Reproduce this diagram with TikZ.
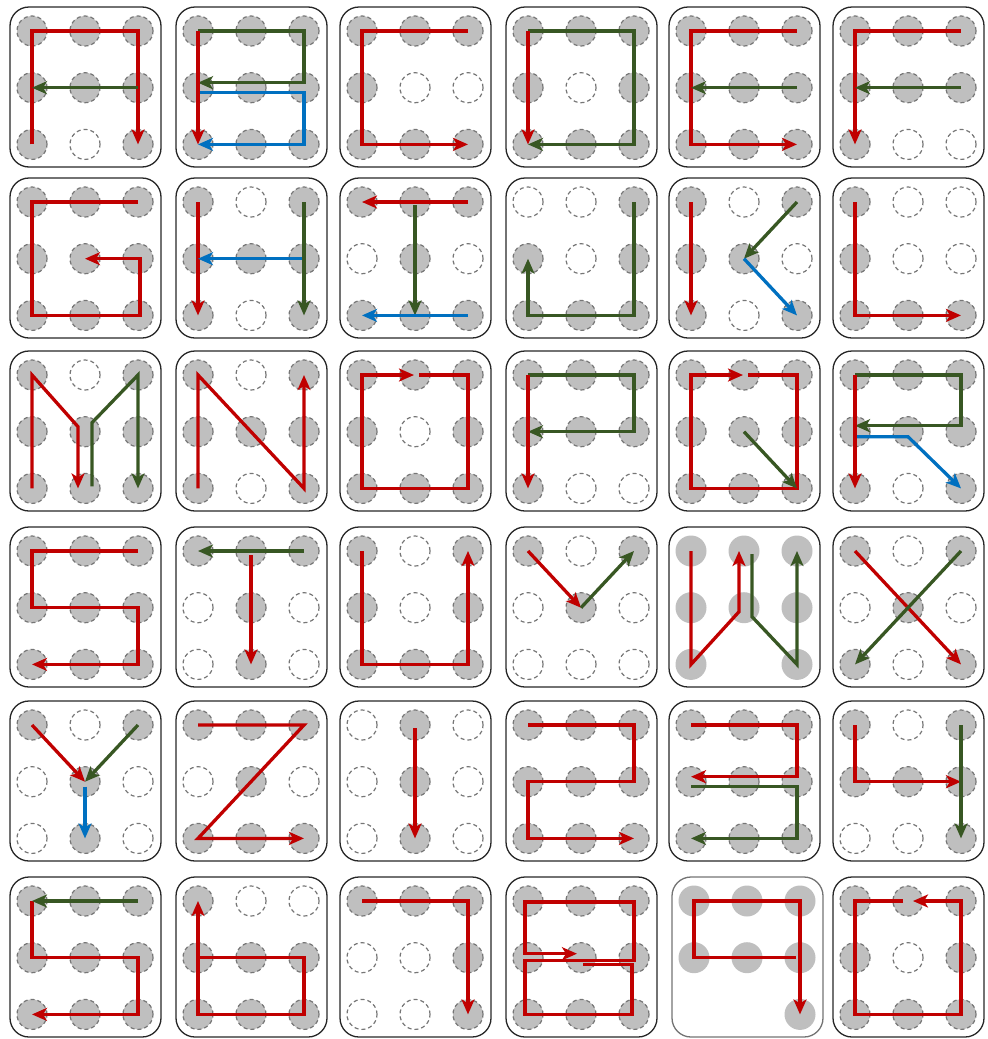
\documentclass[tikz,border=0pt]{standalone}
\usetikzlibrary{arrows.meta,calc}
\definecolor{pred}{HTML}{C00000}
\definecolor{pgreen}{HTML}{385723}
\definecolor{pblue}{HTML}{0070C0}
\definecolor{dotfill}{HTML}{BFBFBF}
\definecolor{dotline}{HTML}{767676}
\tikzset{
 panel/.style={draw=black!85, line width=1.3pt, rounded corners=19pt},
 dotF/.style={circle, minimum size=30pt, inner sep=0pt, fill=dotfill, draw=dotline, dash pattern=on 4pt off 3pt, line width=1.2pt},
 dotE/.style={dotF, fill=none},
 dotS/.style={circle, minimum size=31pt, inner sep=0pt, fill=dotfill},
 dotN/.style={circle, minimum size=30pt, inner sep=0pt},
 strokep/.style={line width=3.3pt, -{Stealth[length=15pt,width=13pt,inset=4pt]}},
 rp/.style={strokep, draw=pred},
 gp/.style={strokep, draw=pgreen},
 bp/.style={strokep, draw=pblue},
}
\newcommand\pnl[3]{%
  \draw[panel] (#1-22,#2-24) rectangle ++(151,160);
  \foreach \s [count=\i from 0] in {#3} {%
    \pgfmathtruncatemacro\cx{mod(\i,3)}%
    \pgfmathtruncatemacro\cy{div(\i,3)}%
    \edef\nm{\ifcase\i tl\or tm\or tr\or ml\or mm\or mr\or bl\or bm\or br\fi}%
    \edef\tmp{\noexpand\node[dot\s] (\nm) at (#1+\cx*53, #2+\cy*56.7) {};}\tmp
  }%
}
\begin{document}
\begin{tikzpicture}[x=1pt,y=-1pt]
\useasboundingbox (0,0) rectangle (988,1039);
% ---- row 1
\pnl{32}{31}{F,F,F,F,F,F,F,E,F}
\draw[rp] (bl.center) -- (tl.center) -- (tr.center) -- (br.center);
\draw[gp] (mr.center) -- (ml.center);
\pnl{198}{31}{F,F,F,F,F,F,F,F,F}
\draw[gp] (tl.center) -- (tr.center) -- ($(mr.center)+(0,-5)$) -- ($(ml.center)+(0,-5)$);
\draw[bp] ($(ml.center)+(0,5)$) -- ($(mr.center)+(0,5)$) -- (br.center) -- (bl.center);
\draw[rp] (tl.center) -- (bl.center);
\pnl{362}{31}{F,F,F,F,E,E,F,F,F}
\draw[rp] (tr.center) -- (tl.center) -- (bl.center) -- (br.center);
\pnl{528}{31}{F,F,F,F,E,F,F,F,F}
\draw[gp] (tl.center) -- (tr.center) -- (br.center) -- (bl.center);
\draw[rp] (tl.center) -- (bl.center);
\pnl{691}{31}{F,F,F,F,F,F,F,F,F}
\draw[rp] (tr.center) -- (tl.center) -- (bl.center) -- (br.center);
\draw[gp] (mr.center) -- (ml.center);
\pnl{855}{31}{F,F,F,F,F,F,F,E,E}
\draw[rp] (tr.center) -- (tl.center) -- (bl.center);
\draw[gp] (mr.center) -- (ml.center);
% ---- row 2
\pnl{32}{202}{F,F,F,F,F,F,F,F,F}
\draw[rp] (tr.center) -- (tl.center) -- (bl.center) -- ($(br.center)+(2,0)$) -- ($(mr.center)+(2,0)$) -- (mm.center);
\pnl{198}{202}{F,E,F,F,F,F,F,E,F}
\draw[rp] (tl.center) -- (bl.center);
\draw[bp] (mr.center) -- (ml.center);
\draw[gp] (tr.center) -- (br.center);
\pnl{362}{202}{F,F,F,E,F,E,F,F,F}
\draw[rp] (tr.center) -- (tl.center);
\draw[gp] ($(tm.center)+(0,3)$) -- (bm.center);
\draw[bp] (br.center) -- (bl.center);
\pnl{528}{202}{E,E,F,F,E,F,F,F,F}
\draw[gp] (tr.center) -- (br.center) -- (bl.center) -- (ml.center);
\pnl{691}{202}{F,E,F,F,F,E,F,E,F}
\draw[rp] (tl.center) -- (bl.center);
\draw[gp] (tr.center) -- (mm.center);
\draw[bp] (mm.center) -- (br.center);
\pnl{855}{202}{F,E,E,F,E,E,F,F,F}
\draw[rp] (tl.center) -- (bl.center) -- (br.center);
% ---- row 3
\pnl{32}{375}{F,E,F,F,F,F,F,F,F}
\draw[rp] (bl.center) -- (tl.center) -- ($(mm.center)+(-7,-5)$) -- ($(bm.center)+(-7,0)$);
\draw[gp] ($(bm.center)+(7,-2)$) -- ($(mm.center)+(7,-9)$) -- (tr.center) -- (br.center);
\pnl{198}{375}{F,E,F,F,F,F,F,E,F}
\draw[rp] (bl.center) -- (tl.center) -- (br.center) -- (tr.center);
\pnl{362}{375}{F,F,F,F,E,F,F,F,F}
\draw[rp] ($(tm.center)+(4,0)$) -- (tr.center) -- (br.center) -- (bl.center) -- (tl.center) -- ($(tm.center)+(-1,0)$);
\pnl{528}{375}{F,F,F,F,F,F,F,E,E}
\draw[gp] (tl.center) -- (tr.center) -- (mr.center) -- (ml.center);
\draw[rp] (tl.center) -- (bl.center);
\pnl{691}{375}{F,F,F,F,F,F,F,F,F}
\draw[rp] ($(tm.center)+(4,0)$) -- (tr.center) -- (br.center) -- (bl.center) -- (tl.center) -- ($(tm.center)+(-1,0)$);
\draw[gp] (mm.center) -- (br.center);
\pnl{855}{375}{F,F,F,F,F,F,F,E,F}
\draw[gp] (tl.center) -- (tr.center) -- ($(mr.center)+(0,-6)$) -- ($(ml.center)+(0,-6)$);
\draw[bp] ($(ml.center)+(0,5)$) -- ($(mm.center)+(0,5)$) -- (br.center);
\draw[rp] (tl.center) -- (bl.center);
% ---- row 4
\pnl{32}{551}{F,F,F,F,F,F,F,F,F}
\draw[rp] (tr.center) -- (tl.center) -- (ml.center) -- (mr.center) -- (br.center) -- (bl.center);
\pnl{198}{551}{F,F,F,E,F,E,E,F,E}
\draw[gp] (tr.center) -- (tl.center);
\draw[rp] ($(tm.center)+(0,4)$) -- (bm.center);
\pnl{362}{551}{F,E,F,F,E,F,F,F,F}
\draw[rp] (tl.center) -- (bl.center) -- (br.center) -- (tr.center);
\pnl{528}{551}{F,E,F,E,F,E,E,E,E}
\draw[rp] (tl.center) -- (mm.center);
\draw[gp] (mm.center) -- (tr.center);
\pnl{691}{551}{S,S,S,S,S,S,S,N,S}
\draw[rp] (tl.center) -- (bl.center) -- ($(mm.center)+(-5,4)$) -- ($(tm.center)+(-5,0)$);
\draw[gp] ($(tm.center)+(8,3)$) -- ($(mm.center)+(8,9)$) -- (br.center) -- (tr.center);
\pnl{855}{551}{F,E,F,E,F,E,F,E,F}
\draw[rp] (tl.center) -- (br.center);
\draw[gp] (tr.center) -- (bl.center);
% ---- row 5
\pnl{32}{725}{F,E,F,E,F,E,E,F,E}
\draw[bp] ($(mm.center)+(0,5)$) -- (bm.center);
\draw[rp] (tl.center) -- (mm.center);
\draw[gp] (tr.center) -- (mm.center);
\pnl{198}{725}{F,F,F,E,F,E,F,F,F}
\draw[rp] (tl.center) -- (tr.center) -- (bl.center) -- (br.center);
\pnl{362}{725}{E,F,E,E,F,E,E,F,E}
\draw[rp] ($(tm.center)+(0,3)$) -- (bm.center);
\pnl{528}{725}{F,F,F,F,F,F,F,F,F}
\draw[rp] (tl.center) -- (tr.center) -- (mr.center) -- (ml.center) -- (bl.center) -- (br.center);
\pnl{691}{725}{F,F,F,F,F,F,F,F,F}
\draw[rp] (tl.center) -- (tr.center) -- ($(mr.center)+(0,-5)$) -- ($(ml.center)+(0,-5)$);
\draw[gp] ($(ml.center)+(0,5)$) -- ($(mr.center)+(0,5)$) -- (br.center) -- (bl.center);
\pnl{855}{725}{F,E,F,F,F,F,E,E,F}
\draw[rp] (tl.center) -- (ml.center) -- (mr.center);
\draw[gp] (tr.center) -- (br.center);
% ---- row 6
\pnl{32}{901}{F,F,F,F,F,F,F,F,F}
\draw[rp] (tl.center) -- (ml.center) -- (mr.center) -- (br.center) -- (bl.center);
\draw[gp] (tr.center) -- (tl.center);
\pnl{198}{901}{F,E,E,F,F,F,F,F,F}
\draw[rp] (ml.center) -- (mr.center) -- (br.center) -- (bl.center) -- (tl.center);
\pnl{362}{901}{F,F,F,E,E,F,E,E,F}
\draw[rp] (tl.center) -- (tr.center) -- (br.center);
\pnl{528}{901}{F,F,F,F,F,F,F,F,F}
\draw[rp] ($(mm.center)+(2,7)$) -- ($(mr.center)+(-2,7)$) -- ($(br.center)+(-2,0)$) -- ($(bl.center)+(-3,0)$) -- ($(ml.center)+(-3,3)$) -- ($(mr.center)+(0,3)$) -- ($(tr.center)+(0,1)$) -- ($(tl.center)+(-3,1)$) -- ($(ml.center)+(-3,-4)$) -- ($(mm.center)+(-4,-4)$);
\begin{scope}[panel/.append style={draw=black!55}]
\pnl{694}{901}{S,S,S,S,S,S,N,N,S}
\end{scope}
\draw[rp] ($(mr.center)+(-4,0)$) -- (ml.center) -- (tl.center) -- (tr.center) -- (br.center);
\pnl{855}{901}{F,F,F,F,E,F,F,F,F}
\draw[rp] ($(tm.center)+(-5,0)$) -- (tl.center) -- (bl.center) -- (br.center) -- (tr.center) -- ($(tm.center)+(5,0)$);
\end{tikzpicture}
\end{document}
